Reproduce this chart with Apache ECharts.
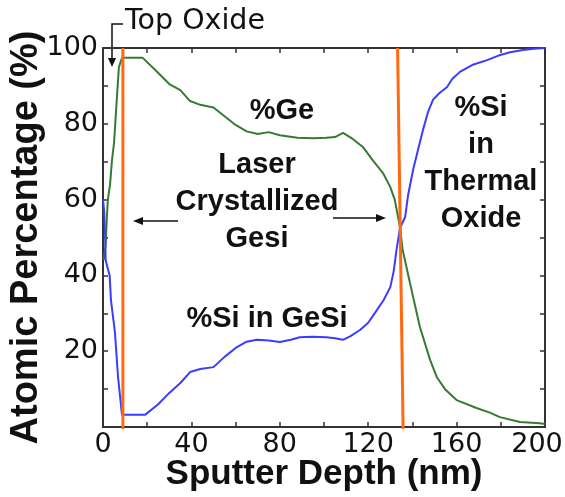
<!DOCTYPE html>
<html>
<head>
<meta charset="utf-8">
<script src="https://cdn.jsdelivr.net/npm/echarts@6/dist/echarts.min.js"></script>
<style>
  html, body { margin: 0; padding: 0; background: #fff; }
  #chart { width: 565px; height: 497px; }
</style>
</head>
<body>
<div id="chart"></div>
<script>
// depth profile: [depth nm, %]
var geData = [[0.3,44],[1.2,48],[1.8,56],[2.2,60],[3.2,64],[4,70],[5,75],[6.3,87],[7.2,95],[8.6,97.4],
  [18,97.4],[24,94],[30,90.5],[35,88.9],[39.4,86],[44,85],[50,84.3],[55,82],[60,79.7],[65,78],
  [70,77.3],[75,77.8],[80,77],[88,76.3],[95,76.2],[101,76.3],[105,76.5],[108.6,77.6],[113,76],
  [117.6,73.9],[122,70.4],[126.7,67],[130,63.3],[132,60],[133.5,55.4],[134.5,52.5],[135.5,47],
  [138.9,38],[143.4,26.4],[148,17.7],[151,13.2],[155,9.8],[160,7.1],[169,5],[175,3.8],
  [179.6,2.6],[188.7,1.3],[197.7,1],[200,0.8]];
var siData = [[0,60],[0.5,57],[1,50],[1.2,44],[3,40],[3.6,33.5],[5.4,25],[6.8,13.2],[8.6,3.2],
  [19,3.2],[25,6],[30,9],[35,11.6],[39.4,14.5],[44,15.3],[50,15.8],[55,18.5],[60.6,21.1],[65,22.5],
  [69.7,23],[75,22.8],[80,22.4],[85,23],[89,23.7],[95,23.8],[101,23.7],[105,23.4],[108.6,23],
  [112,24],[116.3,25.6],[120,27.5],[124,30.9],[127,33.5],[130,36.9],[131.5,41],[133,47.5],
  [134.4,52.5],[136.7,55.4],[138,61],[140.3,67.8],[142.5,73],[144.8,78.4],[147,83],[149.3,86.3],
  [152,88],[155.7,89.7],[158,91.8],[161.5,93.7],[167,95.5],[173.8,96.8],[179,98],[184.2,98.9],
  [190,99.5],[195,99.8],[200,100]];
// layer boundaries (orange)
var topOxideEdge = [[9,100],[9,-0.5]];
var thermalOxideEdge = [[133.3,100],[135.8,-0.5]];

var xTicks = [0, 40, 80, 120, 160, 200];
var yTicks = [20, 40, 60, 80, 100];

var chart = echarts.init(document.getElementById('chart'));

var axisCommon = {
    type: 'value',
    axisLine: { show: true, onZero: false, lineStyle: { color: '#333', width: 2 } },
    axisTick: { show: true, inside: true, length: 5, lineStyle: { color: '#333', width: 1.5 } },
    splitLine: { show: false }
};

var bold = 'bold 29px "Liberation Sans", Arial, sans-serif';

var option = {
    animation: false,
    backgroundColor: '#fff',
    grid: { left: 103, right: 20, top: 48, bottom: 70, containLabel: false, outerBoundsMode: 'none' },
    xAxis: [
        Object.assign({}, axisCommon, {
            min: 0, max: 200, interval: 20, position: 'bottom',
            name: 'Sputter Depth (nm)', nameLocation: 'middle', nameGap: 30, nameMoveOverlap: false,
            nameTextStyle: { fontFamily: 'Liberation Sans', fontWeight: 'bold', fontSize: 35, color: '#111' },
            axisLabel: {
                margin: 4, color: '#111', fontSize: 27, fontFamily: 'DejaVu Sans',
                formatter: function (v) {
                    if (v === 200) return '{last|200}';  // nudged left so it stays on the canvas
                    return xTicks.indexOf(v) >= 0 ? String(v) : '';
                },
                rich: { last: { fontSize: 27, fontFamily: 'DejaVu Sans', color: '#111', padding: [0, 16, 0, 0] } }
            }
        }),
        Object.assign({}, axisCommon, {
            min: 0, max: 200, interval: 20, position: 'top', axisLabel: { show: false }
        })
    ],
    yAxis: [
        Object.assign({}, axisCommon, {
            min: 0, max: 100, interval: 10, position: 'left',
            name: 'Atomic Percentage (%)', nameLocation: 'middle', nameGap: 57, nameRotate: 90, nameMoveOverlap: false,
            nameTextStyle: { fontFamily: 'Liberation Sans', fontWeight: 'bold', fontSize: 38, color: '#111' },
            axisLabel: {
                margin: 5, color: '#111', fontSize: 27, fontFamily: 'DejaVu Sans',
                formatter: function (v) { return yTicks.indexOf(v) >= 0 ? String(v) : ''; }
            }
        }),
        Object.assign({}, axisCommon, {
            min: 0, max: 100, interval: 10, position: 'right', axisLabel: { show: false }
        })
    ],
    series: [
        {
            name: '%Ge', type: 'line', data: geData, showSymbol: false, clip: false,
            lineStyle: { color: '#367a36', width: 2 }
        },
        {
            name: '%Si', type: 'line', data: siData, showSymbol: false, clip: false,
            lineStyle: { color: '#3a3cff', width: 2 }
        },
        {
            name: 'edge1', type: 'line', data: topOxideEdge, showSymbol: false, clip: false,
            lineStyle: { color: '#ff6a10', width: 3 }
        },
        {
            name: 'edge2', type: 'line', data: thermalOxideEdge, showSymbol: false, clip: false,
            lineStyle: { color: '#ff6a10', width: 3 }
        }
    ],
    graphic: [
        // Top Oxide callout
        { type: 'text', x: 125, y: 22, style: { text: 'Top Oxide', font: '28.5px "DejaVu Sans"', fill: '#111', textAlign: 'left', textVerticalAlign: 'middle' } },
        { type: 'polyline', shape: { points: [[123, 24], [112, 24], [112, 58]] }, style: { stroke: '#111', lineWidth: 1.5, fill: null } },
        { type: 'polygon', shape: { points: [[108, 58], [116, 58], [112, 67]] }, style: { fill: '#111' } },
        // region labels
        { type: 'text', x: 282, y: 111, style: { text: '%Ge', font: bold, fill: '#111', textAlign: 'center', textVerticalAlign: 'middle' } },
        { type: 'text', x: 257, y: 202, style: { text: 'Laser\nCrystallized\nGesi', font: bold, lineHeight: 37, fill: '#111', textAlign: 'center', textVerticalAlign: 'middle' } },
        { type: 'text', x: 267, y: 319, style: { text: '%Si in GeSi', font: bold, fill: '#111', textAlign: 'center', textVerticalAlign: 'middle' } },
        { type: 'text', x: 481, y: 163, style: { text: '%Si\nin\nThermal\nOxide', font: bold, lineHeight: 37, fill: '#111', textAlign: 'center', textVerticalAlign: 'middle' } },
        // arrows
        { type: 'line', shape: { x1: 178, y1: 221, x2: 140, y2: 221 }, style: { stroke: '#111', lineWidth: 1.5 } },
        { type: 'polygon', shape: { points: [[133, 221], [143, 217], [143, 225]] }, style: { fill: '#111' } },
        { type: 'line', shape: { x1: 333, y1: 218, x2: 378, y2: 218 }, style: { stroke: '#111', lineWidth: 1.5 } },
        { type: 'polygon', shape: { points: [[386, 218], [376, 214], [376, 222]] }, style: { fill: '#111' } }
    ]
};

chart.setOption(option);
</script>
</body>
</html>
